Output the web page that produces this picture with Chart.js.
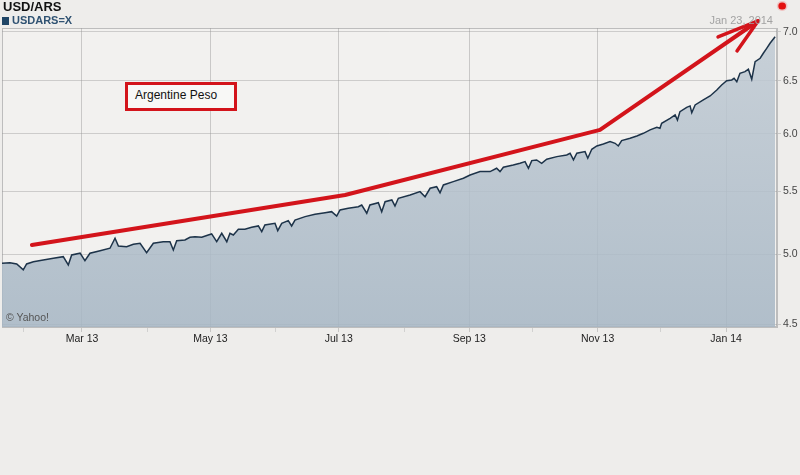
<!DOCTYPE html>
<html>
<head>
<meta charset="utf-8">
<script src="https://cdn.jsdelivr.net/npm/chart.js@4.4.1/dist/chart.umd.min.js"></script>
<style>
  html, body { margin: 0; padding: 0; background: #eeedeb; }
  #wrap { position: relative; width: 800px; height: 475px; font-family: "Liberation Sans", Arial, sans-serif; }
  #wrap canvas { position: absolute; left: 0; top: 0; }
  .lbl { position: absolute; line-height: 1; white-space: nowrap; }
  .title { left: 3px; top: 0; font-size: 13px; font-weight: bold; color: #111; }
  .sym { left: 2px; top: 14.5px; font-size: 11px; font-weight: bold; color: #2f5272; }
  .sym i { display: inline-block; width: 7px; height: 8px; background: #1f4566; margin-right: 3px; vertical-align: -1px; }
  .date { right: 27px; top: 14.5px; font-size: 11px; color: #a3a3a3; }
  .credit { left: 6px; top: 311.5px; font-size: 10.5px; color: #555; }
  .note { left: 125px; top: 82px; width: 99px; height: 19px; padding: 4px 0 0 7px; border: 3px solid #d3141b; background: #f8f8f6; font-size: 12px; color: #111; }
</style>
</head>
<body>
<div id="wrap">
  <canvas id="fx" width="800" height="475"></canvas>
  <div class="lbl title">USD/ARS</div>
  <div class="lbl sym"><i></i>USDARS=X</div>
  <div class="lbl date">Jan 23, 2014</div>
  <div class="lbl credit">© Yahoo!</div>
  <div class="lbl note">Argentine Peso</div>
</div>
<script>
// days counted from Jan 1 2013
const fxDays = [21, 24.8, 28.0, 31.1, 32.7, 35.9, 40.6, 45.4, 50.1, 52.5, 54.1, 58.1, 60.4, 62.8, 67.6, 72.3, 74.7, 76.3, 80.2, 83.4,
  86.6, 89.7, 92.9, 97.6, 100.8, 102.4, 104.0, 107.9, 110.3,
  112.7, 115.9, 119.0, 120.6, 123.0, 125.4, 127.8, 129.3, 130.9, 133.3, 136.4, 139.6, 142.8, 144.4, 145.9, 150.7, 152.0, 153.9, 157.0, 158.6,
  160.2, 165.0, 169.7, 174.5, 177.6, 180.0, 181.6, 185.5, 190.3, 191.9, 194.3, 195.8, 199.8, 201.4, 203.0, 206.2, 207.7, 209.3,
  214.9, 219.6, 222.0, 224.4, 227.5, 229.1, 230.7, 235.4, 240.2, 243.4, 248.1, 252.9, 256.0, 257.6, 259.2, 263.9, 267.1, 269.5, 271.1, 272.7,
  275.0, 277.4, 279.8, 284.6, 289.3, 290.9, 292.5, 294.1, 298.0, 299.3, 301.2,
  303.6, 306.7, 309.9, 312.3, 313.8, 315.4, 319.4, 322.6, 325.7, 328.9, 332.1, 333.6, 334.4, 338.4, 340.8, 341.9, 343.1, 346.3, 347.9, 348.7,
  350.3, 354.2, 357.4, 360.6, 362.9, 365.3, 367.7, 368.8, 370.1, 371.6, 374.0, 375.6, 377.2, 378.8, 381.2, 382.7, 384.3, 385.9, 388.3];
const fxRates = [4.933, 4.938, 4.928, 4.884, 4.928, 4.945, 4.958, 4.971, 4.983, 4.921, 4.996, 5.009, 4.953, 5.009, 5.028, 5.047, 5.124, 5.064, 5.059, 5.077,
  5.085, 5.013, 5.085, 5.097, 5.097, 5.034, 5.105, 5.110, 5.131,
  5.136, 5.131, 5.149, 5.157, 5.097, 5.162, 5.097, 5.162, 5.149, 5.194, 5.194, 5.209, 5.220, 5.175, 5.228, 5.241, 5.183, 5.241, 5.262, 5.220,
  5.267, 5.294, 5.313, 5.326, 5.334, 5.299, 5.348, 5.361, 5.374, 5.388, 5.321, 5.388, 5.407, 5.334, 5.415, 5.429, 5.380, 5.443,
  5.470, 5.498, 5.456, 5.526, 5.539, 5.489, 5.554, 5.582, 5.610, 5.638, 5.667, 5.667, 5.696, 5.667, 5.705, 5.724, 5.739, 5.753, 5.696, 5.762,
  5.768, 5.739, 5.774, 5.797, 5.812, 5.827, 5.768, 5.827, 5.841, 5.783, 5.862,
  5.891, 5.909, 5.930, 5.915, 5.891, 5.939, 5.960, 5.981, 6.005, 6.036, 6.060, 6.051, 6.097, 6.143, 6.174, 6.127, 6.205, 6.246, 6.259, 6.195,
  6.268, 6.316, 6.354, 6.412, 6.461, 6.503, 6.510, 6.526, 6.493, 6.576, 6.592, 6.616, 6.517, 6.692, 6.727, 6.778, 6.829, 6.881, 6.950];

// hand-drawn red trend arrow and the little red dot
const trendDays = [35.2, 184.0, 305.1, 380.2];
const trendRates = [5.072, 5.470, 6.036, 7.117];
const arrowDays = [361.2, 380.2, 370.2];
const arrowRates = [6.947, 7.117, 6.802];
const dotDays = [391.5, 391.8];
const dotRates = [7.281, 7.281];

const monthTicks = [31, 59, 90, 120, 151, 181, 212, 243, 273, 304, 334, 365];
const monthLabels = ['', 'Mar 13', '', 'May 13', '', 'Jul 13', '', 'Sep 13', '', 'Nov 13', '', 'Jan 14'];
const rateTicks = [4.5, 5.0, 5.5, 6.0, 6.5, 7.0];

const toPoints = (xs, ys) => xs.map((x, i) => ({ x, y: ys[i] }));

const plotFrame = {
  id: 'plotFrame',
  beforeDraw(chart) {
    const { ctx, chartArea: a } = chart;
    ctx.save();
    ctx.fillStyle = '#f2f1ef';
    ctx.fillRect(a.left, a.top, a.right - a.left, a.bottom - a.top);
    ctx.strokeStyle = '#bdbdbd';
    ctx.lineWidth = 1;
    ctx.strokeRect(a.left + 0.5, a.top + 0.5, a.right - a.left - 1, a.bottom - a.top - 1);
    ctx.restore();
  }
};

function areaFill(context) {
  const a = context.chart.chartArea;
  if (!a) return 'rgba(175,189,201,0.85)';
  const g = context.chart.ctx.createLinearGradient(0, a.top, 0, a.bottom);
  g.addColorStop(0, 'rgba(193,203,212,0.86)');
  g.addColorStop(1, 'rgba(166,182,196,0.86)');
  return g;
}

const redLine = { pointRadius: 0, borderCapStyle: 'round', borderJoinStyle: 'round', clip: false, order: 1 };

new Chart(document.getElementById('fx'), {
  type: 'line',
  data: {
    datasets: [
      { ...redLine, data: toPoints(trendDays, trendRates), borderColor: '#d3141b', borderWidth: 4 },
      { ...redLine, data: toPoints(arrowDays, arrowRates), borderColor: '#d3141b', borderWidth: 3.5 },
      { ...redLine, data: toPoints(dotDays, dotRates), borderColor: '#e3100f', borderWidth: 7 },
      { ...redLine, data: toPoints(dotDays, dotRates), borderColor: 'rgba(240,160,160,0.55)', borderWidth: 10 },
      {
        data: toPoints(fxDays, fxRates),
        borderColor: '#1d3349', borderWidth: 1.5, pointRadius: 0, tension: 0,
        fill: 'start', backgroundColor: areaFill, order: 2
      }
    ]
  },
  plugins: [plotFrame],
  options: {
    responsive: false,
    animation: false,
    layout: { padding: { top: 28, left: 2, right: 0, bottom: 0 } },
    plugins: { legend: { display: false }, tooltip: { enabled: false } },
    scales: {
      x: {
        type: 'linear', min: 21, max: 389.2,
        afterBuildTicks: s => { s.ticks = monthTicks.map(v => ({ value: v })); },
        afterFit: s => { s.height = 148; s.paddingLeft = 0; s.paddingRight = 0; },
        ticks: {
          autoSkip: false, maxRotation: 0, padding: 1,
          callback: (v, i) => monthLabels[i],
          color: '#222', font: { family: 'Liberation Sans', size: 10.5 }
        },
        grid: {
          color: c => monthLabels[c.index] ? 'rgba(150,150,150,0.45)' : 'rgba(0,0,0,0)',
          tickColor: c => monthLabels[c.index] ? 'rgba(150,150,150,0.45)' : 'rgba(205,205,205,0.9)',
          tickLength: 5
        },
        border: { display: true, color: '#bdbdbd' }
      },
      y: {
        type: 'logarithmic', position: 'right', min: 4.48, max: 7.042,
        afterBuildTicks: s => { s.ticks = rateTicks.map(v => ({ value: v })); },
        afterFit: s => { s.width = 23; s.paddingTop = 0; s.paddingBottom = 0; },
        ticks: {
          padding: 2,
          callback: v => Number(v).toFixed(1),
          color: '#444', font: { family: 'Liberation Sans', size: 10.5 }
        },
        grid: { color: 'rgba(150,150,150,0.4)', tickColor: 'rgba(190,190,190,0.8)', tickLength: 4 },
        border: { display: true, color: '#bdbdbd' }
      }
    }
  }
});
</script>
</body>
</html>
